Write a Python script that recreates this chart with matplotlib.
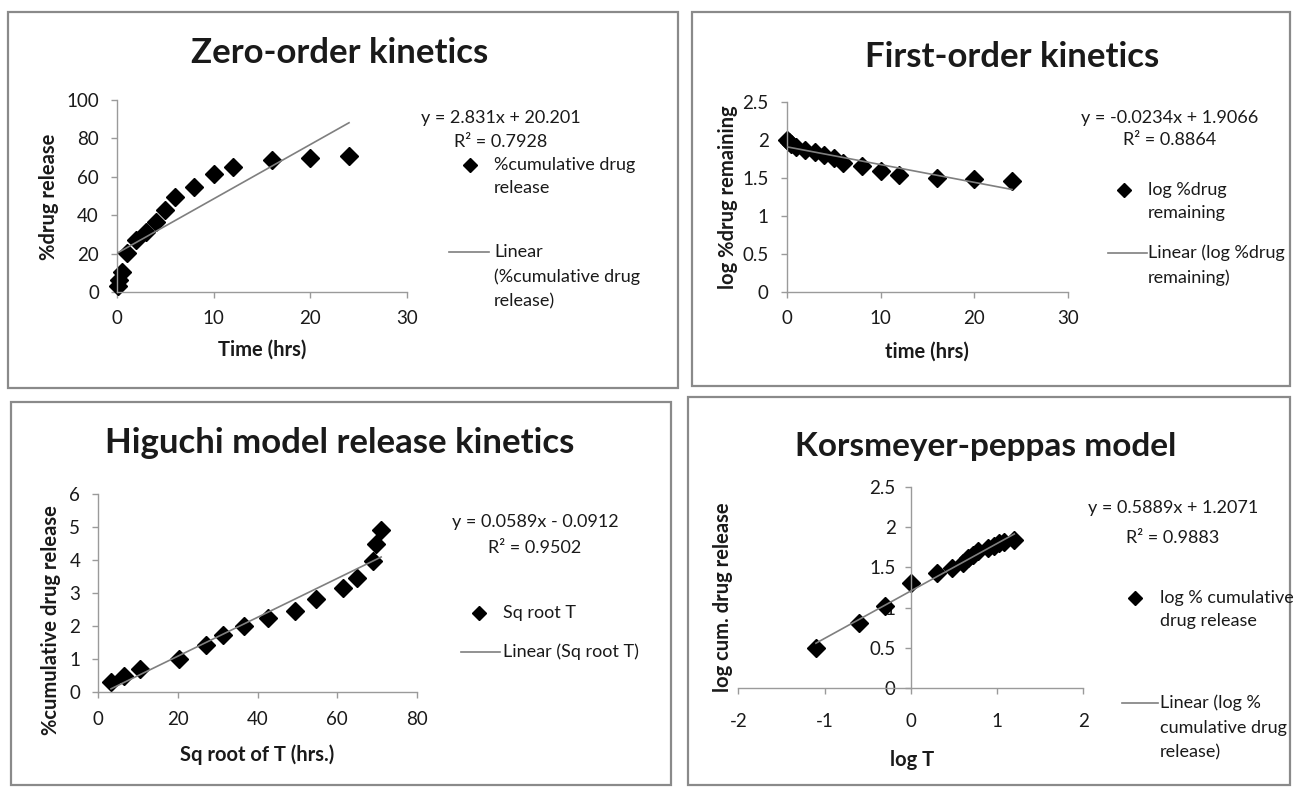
import numpy as np
import matplotlib
matplotlib.use('Agg')
import matplotlib.pyplot as plt
from matplotlib.lines import Line2D
from matplotlib.patches import Rectangle
from matplotlib.ticker import FormatStrFormatter

plt.rcParams['font.family'] = ['Lato', 'DejaVu Sans']
plt.rcParams['axes.unicode_minus'] = False

W, H = 1295, 789

# ---- data ----
time_hrs = [0.083, 0.25, 0.5, 1, 2, 3, 4, 5, 6, 8, 10, 12, 16, 20, 24]
cum_release = [3.2, 6.5, 10.5, 20.3, 27, 31.2, 36.6, 42.6, 49.5, 54.7,
               61.5, 65, 69, 69.6, 71]
log_remaining = [1.99, 1.97, 1.95, 1.90, 1.86, 1.84, 1.80, 1.76, 1.70,
                 1.66, 1.59, 1.54, 1.49, 1.48, 1.46]
sqrt_t = [0.29, 0.5, 0.71, 1.0, 1.41, 1.74, 2.0, 2.23, 2.45, 2.83,
          3.15, 3.45, 3.97, 4.5, 4.9]
log_t = [-1.1, -0.6, -0.3, 0.0, 0.3, 0.48, 0.6, 0.66, 0.72, 0.78,
         0.9, 0.96, 1.02, 1.08, 1.2]
log_cum = [0.50, 0.81, 1.02, 1.31, 1.43, 1.49, 1.56, 1.61, 1.65, 1.70,
           1.74, 1.77, 1.80, 1.82, 1.84]

# trendline coefficients as printed on the chart
fit_zero = (2.831, 20.201)
fit_first = (-0.0234, 1.9066)
fit_higuchi = (0.0589, -0.0912)
fit_kp = (0.5889, 1.2071)

AX_GRAY = '#9a9a9a'
TXT = '#1a1a1a'


def fx(px):
    return px / W


def fy(py):
    return 1 - py / H


def make_axes(fig, left, right, bottom, top):
    ax = fig.add_axes([fx(left), fy(bottom), (right - left) / W, (bottom - top) / H])
    for s in ['top', 'right']:
        ax.spines[s].set_visible(False)
    for s in ['left', 'bottom']:
        ax.spines[s].set_color(AX_GRAY)
        ax.spines[s].set_linewidth(1.0)
    ax.tick_params(colors=AX_GRAY, labelcolor=TXT, labelsize=13.5, length=4,
                   width=1.0, direction='out')
    return ax


def scatter_fit(ax, x, y, fit):
    ax.plot(x, y, linestyle='none', marker='D', ms=9, color='black', zorder=2,
            clip_on=False)
    xs = np.array([min(x), max(x)])
    ax.plot(xs, fit[0] * xs + fit[1], color='#7f7f7f', lw=1.2, zorder=3)


def labels(ax, xl, yl, xc, yc):
    ax.set_xlabel(xl, fontsize=14.5, fontweight='bold', color=TXT, va='center')
    ax.set_ylabel(yl, fontsize=14.5, fontweight='bold', color=TXT, va='center')
    ax.xaxis.set_label_coords(*xc)
    ax.yaxis.set_label_coords(*yc)


def legend_block(fig, eq, r2, eq_x, eq_y, r2_y, mk, mk_lines, ln, ln_lines):
    fig.text(fx(eq_x), fy(eq_y), eq, ha='center', va='center', fontsize=13, color=TXT)
    fig.text(fx(eq_x), fy(r2_y), r2, ha='center', va='center', fontsize=13, color=TXT)
    mx, my, tx = mk
    fig.add_artist(Line2D([fx(mx)], [fy(my)], marker='D', ms=7, color='black',
                          transform=fig.transFigure))
    for i, t in enumerate(mk_lines):
        fig.text(fx(tx), fy(my + i * 23), t, ha='left', va='center', fontsize=13, color=TXT)
    x0, x1, ly, tx = ln
    fig.add_artist(Line2D([fx(x0), fx(x1)], [fy(ly), fy(ly)], color='#7f7f7f', lw=1.2,
                          transform=fig.transFigure))
    for i, t in enumerate(ln_lines):
        fig.text(fx(tx), fy(ly + i * 24.5), t, ha='left', va='center', fontsize=13, color=TXT)


fig = plt.figure(figsize=(W / 100, H / 100), dpi=100)
fig.patch.set_facecolor('white')

# panel frames
for (l, t, r, b) in [(8, 12, 678, 388), (692, 12, 1290, 386),
                     (11, 402, 671, 785), (688, 397, 1290, 785)]:
    fig.add_artist(Rectangle((fx(l), fy(b)), (r - l) / W, (b - t) / H,
                             transform=fig.transFigure, fill=False,
                             edgecolor='#8a8a8a', lw=1.6))

# ---- zero-order ----
ax1 = make_axes(fig, 117, 407, 292, 100)
scatter_fit(ax1, time_hrs, cum_release, fit_zero)
ax1.set_xlim(0, 30)
ax1.set_ylim(0, 100)
ax1.set_xticks([0, 10, 20, 30])
ax1.set_yticks(range(0, 101, 20))
ax1.tick_params(axis='x', pad=9)
ax1.tick_params(axis='y', pad=9)
labels(ax1, 'Time (hrs)', '%drug release', (0.5, -0.302), (-0.234, 0.495))
fig.text(fx(340), fy(53), 'Zero-order kinetics', ha='center', va='center',
         fontsize=25, fontweight='bold', color=TXT)
legend_block(fig, 'y = 2.831x + 20.201', 'R² = 0.7928', 501, 118, 142,
             (470, 165, 494), ['%cumulative drug', 'release'],
             (449, 489, 252, 494), ['Linear', '(%cumulative drug', 'release)'])

# ---- first-order ----
ax2 = make_axes(fig, 786.7, 1068.3, 291.7, 101.7)
scatter_fit(ax2, time_hrs, log_remaining, fit_first)
ax2.set_xlim(0, 30)
ax2.set_ylim(0, 2.5)
ax2.set_xticks([0, 10, 20, 30])
ax2.set_yticks(np.arange(0, 2.51, 0.5))
ax2.yaxis.set_major_formatter(FormatStrFormatter('%g'))
ax2.tick_params(axis='x', pad=9)
ax2.tick_params(axis='y', pad=9)
labels(ax2, 'time (hrs)', 'log %drug remaining', (0.498, -0.317), (-0.208, 0.498))
fig.text(fx(1012), fy(57), 'First-order kinetics', ha='center', va='center',
         fontsize=25, fontweight='bold', color=TXT)
legend_block(fig, 'y = -0.0234x + 1.9066', 'R² = 0.8864', 1170, 118, 140,
             (1124, 190, 1148), ['log %drug', 'remaining'],
             (1108, 1147, 253, 1148), ['Linear (log %drug', 'remaining)'])

# ---- Higuchi ----
ax3 = make_axes(fig, 98.3, 417, 692, 494)
scatter_fit(ax3, cum_release, sqrt_t, fit_higuchi)
ax3.set_xlim(0, 80)
ax3.set_ylim(0, 6)
ax3.set_xticks(range(0, 81, 20))
ax3.set_yticks(range(0, 7))
ax3.tick_params(axis='x', pad=10)
ax3.tick_params(axis='y', pad=9)
labels(ax3, 'Sq root of T (hrs.)', '%cumulative drug release', (0.498, -0.318), (-0.148, 0.364))
fig.text(fx(340), fy(443), 'Higuchi model release kinetics', ha='center', va='center',
         fontsize=25, fontweight='bold', color=TXT)
legend_block(fig, 'y = 0.0589x - 0.0912', 'R² = 0.9502', 535, 522, 548,
             (479, 613, 503), ['Sq root T'],
             (461, 500, 652, 503), ['Linear (Sq root T)'])

# ---- Korsmeyer-Peppas ----
ax4 = make_axes(fig, 738.3, 1083.3, 688.3, 486.7)
scatter_fit(ax4, log_t, log_cum, fit_kp)
ax4.set_xlim(-2, 2)
ax4.set_ylim(0, 2.5)
ax4.spines['left'].set_position(('data', 0))
ax4.set_xticks([-2, -1, 0, 1, 2])
ax4.set_yticks(np.arange(0, 2.51, 0.5))
ax4.yaxis.set_major_formatter(FormatStrFormatter('%g'))
ax4.tick_params(axis='x', pad=14)
ax4.tick_params(axis='y', pad=7)
labels(ax4, 'log T', 'log cum. drug release', (0.503, -0.356), (-0.044, 0.453))
fig.text(fx(986), fy(447), 'Korsmeyer-peppas model', ha='center', va='center',
         fontsize=24, fontweight='bold', color=TXT)
legend_block(fig, 'y = 0.5889x + 1.2071', 'R² = 0.9883', 1173, 508, 538,
             (1135, 598, 1160), ['log % cumulative', 'drug release'],
             (1122, 1158, 703, 1160), ['Linear (log %', 'cumulative drug', 'release)'])

fig.savefig('out.png', dpi=100)
